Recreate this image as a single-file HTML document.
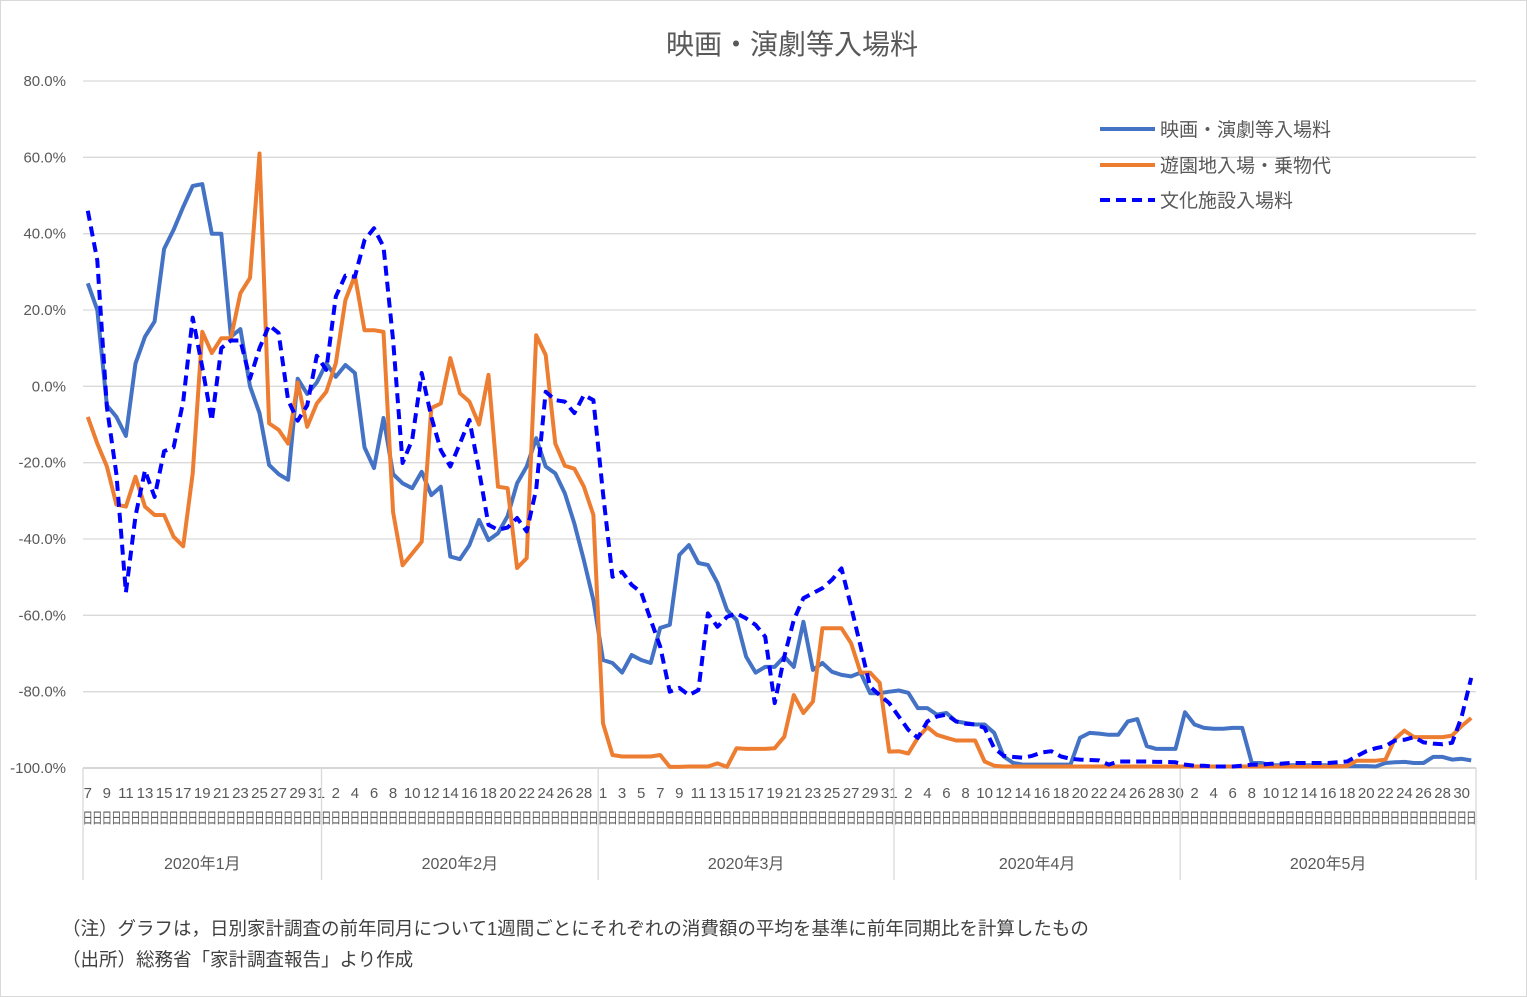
<!DOCTYPE html>
<html><head><meta charset="utf-8"><style>
body{margin:0;background:#fff;}
svg{display:block;font-family:"Liberation Sans","Noto Sans CJK JP",sans-serif;}
</style></head><body>
<svg id="chart" width="1527" height="997" xmlns="http://www.w3.org/2000/svg">
<rect x="0.5" y="0.5" width="1526" height="996" fill="#fff" stroke="#d9d9d9"/>
<text x="792" y="54" text-anchor="middle" font-size="28" fill="#595959">映画・演劇等入場料</text>
<g id="grid"></g>
<g id="yaxis"></g>
<g id="xaxis"></g>
<g id="series"></g>
<g>
<g><line x1="1100" y1="129" x2="1155" y2="129" stroke="#4472C4" stroke-width="4"/><text x="1160" y="136" font-size="19" fill="#595959">映画・演劇等入場料</text></g>
<g><line x1="1100" y1="165" x2="1155" y2="165" stroke="#ED7D31" stroke-width="4"/><text x="1160" y="172" font-size="19" fill="#595959">遊園地入場・乗物代</text></g>
<g><line x1="1100" y1="200" x2="1155" y2="200" stroke="#0000FF" stroke-width="4" stroke-dasharray="10,6"/><text x="1160" y="207" font-size="19" fill="#595959">文化施設入場料</text></g>
</g>
<text x="62" y="935" font-size="18.5" fill="#404040">（注）グラフは，日別家計調査の前年同月について1週間ごとにそれぞれの消費額の平均を基準に前年同期比を計算したもの</text>
<text x="62" y="966" font-size="18.5" fill="#404040">（出所）総務省「家計調査報告」より作成</text>
</svg>
<script>
const months = ["2020年1月","2020年2月","2020年3月","2020年4月","2020年5月"];
const monthStartDay = [7,1,1,1,1];
const monthDays = [31,29,31,30,31];
const yTicks = [80,60,40,20,0,-20,-40,-60,-80,-100];
const movie = [27,20,-5,-8,-13,6,13,17,36,41,47,52.5,53,40,40,13,15,0,-7,-20.6,-23,-24.5,2,-2,1,
 6,2.5,5.6,3.5,-16,-21.4,-8.3,-23,-25.4,-26.7,-22.4,-28.5,-26.3,-44.6,-45.3,-41.6,-35,-40.3,-38.5,-34,-25.4,-21,-13.6,-21,-22.8,-28,-36,-45.6,-56,
 -71.7,-72.5,-75,-70.4,-71.7,-72.5,-63.3,-62.5,-44.2,-41.6,-46.3,-46.8,-51.5,-58.6,-61.3,-70.8,-75,-73.5,-73.5,-70.8,-73.5,-61.7,-74.3,-72.5,-74.8,-75.6,-76,-75,-80.4,-80.4,-80,
 -79.7,-80.3,-84.3,-84.3,-86,-85.6,-87.8,-88.2,-88.6,-88.6,-90.8,-97,-98.7,-99.1,-99.1,-99.1,-99.1,-99.1,-99.1,-92.1,-90.8,-91,-91.3,-91.3,-87.8,-87.2,-94.3,-95,-95,-95,
 -85.4,-88.6,-89.5,-89.7,-89.7,-89.5,-89.5,-98.7,-98.7,-99.3,-99.3,-99.3,-99.3,-99.3,-99.3,-99.3,-99.5,-99.5,-99.5,-99.5,-99.6,-98.7,-98.5,-98.4,-98.7,-98.7,-97.1,-97.1,-97.8,-97.6,-98];
const amusement = [-8,-15,-21,-31,-31.5,-23.7,-31.5,-33.7,-33.7,-39.4,-41.9,-22.8,14.3,8.7,12.6,12.6,24.4,28.4,61,-9.7,-11.4,-15,1,-10.6,-4.5,
 -1.4,6,22.6,29,14.7,14.7,14.3,-33,-46.9,-43.8,-40.7,-5.7,-4.5,7.4,-1.8,-4,-10,3,-26.3,-26.7,-47.6,-45,13.4,8.2,-15,-20.8,-21.6,-26.3,-33.7,
 -88.3,-96.6,-97,-97,-97,-97,-96.6,-99.7,-99.7,-99.6,-99.6,-99.6,-98.8,-99.7,-94.8,-95,-95,-95,-94.8,-91.8,-80.9,-85.6,-82.6,-63.4,-63.4,-63.4,-67.3,-75,-75,-77.7,-95.7,
 -95.6,-96.2,-92.1,-89.3,-91.3,-92.1,-92.8,-92.8,-92.8,-98.3,-99.4,-99.6,-99.6,-99.6,-99.6,-99.6,-99.6,-99.6,-99.6,-99.6,-99.6,-99.6,-99.6,-99.6,-99.6,-99.6,-99.6,-99.6,-99.6,-99.6,
 -99.6,-99.6,-99.6,-99.6,-99.6,-99.6,-99.6,-99.6,-99.6,-99.6,-99.6,-99.6,-99.6,-99.6,-99.6,-99.6,-99.6,-99.5,-98.1,-98.1,-98.1,-97.8,-92.4,-90.2,-91.9,-91.9,-91.9,-91.9,-91.5,-89,-86.9];
const culture = [46,33,-5.5,-23,-54,-34,-22,-29,-17,-16,-4,18,5,-9,10,12,12,2,10,16,14,-3.6,-9,-5,8,
 4.3,23.5,29,28.7,38.3,41.4,36.6,12.1,-20.1,-14,3.5,-8,-16.7,-21,-15,-8.8,-22,-36.3,-37.6,-37,-34.5,-38,-27,-1.4,-3.6,-4,-7,-2.3,-3.6,
 -28,-49.9,-48.6,-52,-54,-61.2,-68.2,-80,-79,-80.9,-79.6,-59.5,-63,-60.4,-59.5,-60.8,-62.5,-65.6,-83,-70.8,-61.2,-55.5,-54.2,-52.9,-50.7,-47.7,-57.7,-68.2,-78.7,-80.9,-83,
 -86.5,-90,-92.1,-87.8,-86.5,-86,-87.8,-88.4,-88.6,-89.5,-94.8,-96.8,-97.1,-97.3,-96.8,-95.9,-95.6,-97,-97.6,-97.8,-97.9,-98,-99.1,-98.3,-98.3,-98.3,-98.3,-98.4,-98.4,-98.5,
 -99.1,-99.4,-99.4,-99.6,-99.6,-99.6,-99.4,-99.1,-99.1,-98.9,-98.9,-98.7,-98.7,-98.7,-98.7,-98.7,-98.5,-98.3,-96.9,-95.6,-94.8,-94.3,-92.8,-92.6,-91.9,-93.3,-93.6,-93.8,-93.4,-86.5,-76.4];

const NS="http://www.w3.org/2000/svg";
const X0=83,X1=1476,Y80=81,Y100=768;
const days=[];const monthIdx=[];
months.forEach((m,k)=>{for(let d=monthStartDay[k];d<=monthDays[k];d++){days.push(d);monthIdx.push(k);}});
const N=days.length;const step=(X1-X0)/N;
function xPos(i){return X0+(i+0.5)*step;}
function yPos(v){return Y80+(80-v)*(Y100-Y80)/180;}
function mk(tag,attrs,parent){const e=document.createElementNS(NS,tag);for(const k in attrs)e.setAttribute(k,attrs[k]);parent.appendChild(e);return e;}
const grid=document.getElementById('grid'),ya=document.getElementById('yaxis'),xa=document.getElementById('xaxis'),ser=document.getElementById('series');
yTicks.forEach(v=>{
 const l=mk('line',{x1:X0,x2:X1,y1:yPos(v),y2:yPos(v),stroke:v===-100?'#bfbfbf':'#d9d9d9','stroke-width':1.3},grid);
 
 
 const t=mk('text',{x:66,y:yPos(v)+5,'text-anchor':'end','font-size':15,fill:'#595959'},ya);
 
 
 t.textContent=v.toFixed(1)+'%';
});
days.forEach((d,i)=>{
 if(i%2===0){const t=mk('text',{x:xPos(i),y:798,'text-anchor':'middle','font-size':15,fill:'#595959'},xa);
 
 
 t.textContent=String(d);}
 const t2=mk('text',{x:0,y:0,'text-anchor':'middle','font-size':10.5,fill:'#595959',transform:'translate('+xPos(i).toFixed(1)+',823) scale(1,1.4)'},xa);
 
 
 t2.textContent='日';
});
let start=0;
months.forEach((m,k)=>{
 let cnt=monthIdx.filter(v=>v===k).length;
 const xs=X0+start*step,xe=X0+(start+cnt)*step;
 if(k===0){const s=mk('line',{x1:xs,x2:xs,y1:Y100,y2:880,stroke:'#d9d9d9','stroke-width':1.3},xa);
 
 }
 const s2=mk('line',{x1:xe,x2:xe,y1:Y100,y2:880,stroke:'#d9d9d9','stroke-width':1.3},xa);
 
 
 const t=mk('text',{x:(xs+xe)/2,y:869,'text-anchor':'middle','font-size':16,fill:'#595959'},xa);
 
 
 t.textContent=m;
 start+=cnt;
});
function draw(vals,color,dash,name){
 const pts=vals.map((v,i)=>xPos(i).toFixed(1)+','+yPos(v).toFixed(1)).join(' ');
 const p=mk('polyline',{points:pts,fill:'none',stroke:color,'stroke-width':4,'stroke-linejoin':'round'},ser);
 if(dash)p.setAttribute('stroke-dasharray','10,6');
 
 
}
draw(movie,'#4472C4',false,'line-movie-theater');
draw(amusement,'#ED7D31',false,'line-amusement-park');
draw(culture,'#0000FF',true,'line-cultural-facility');
</script>
</body></html>
